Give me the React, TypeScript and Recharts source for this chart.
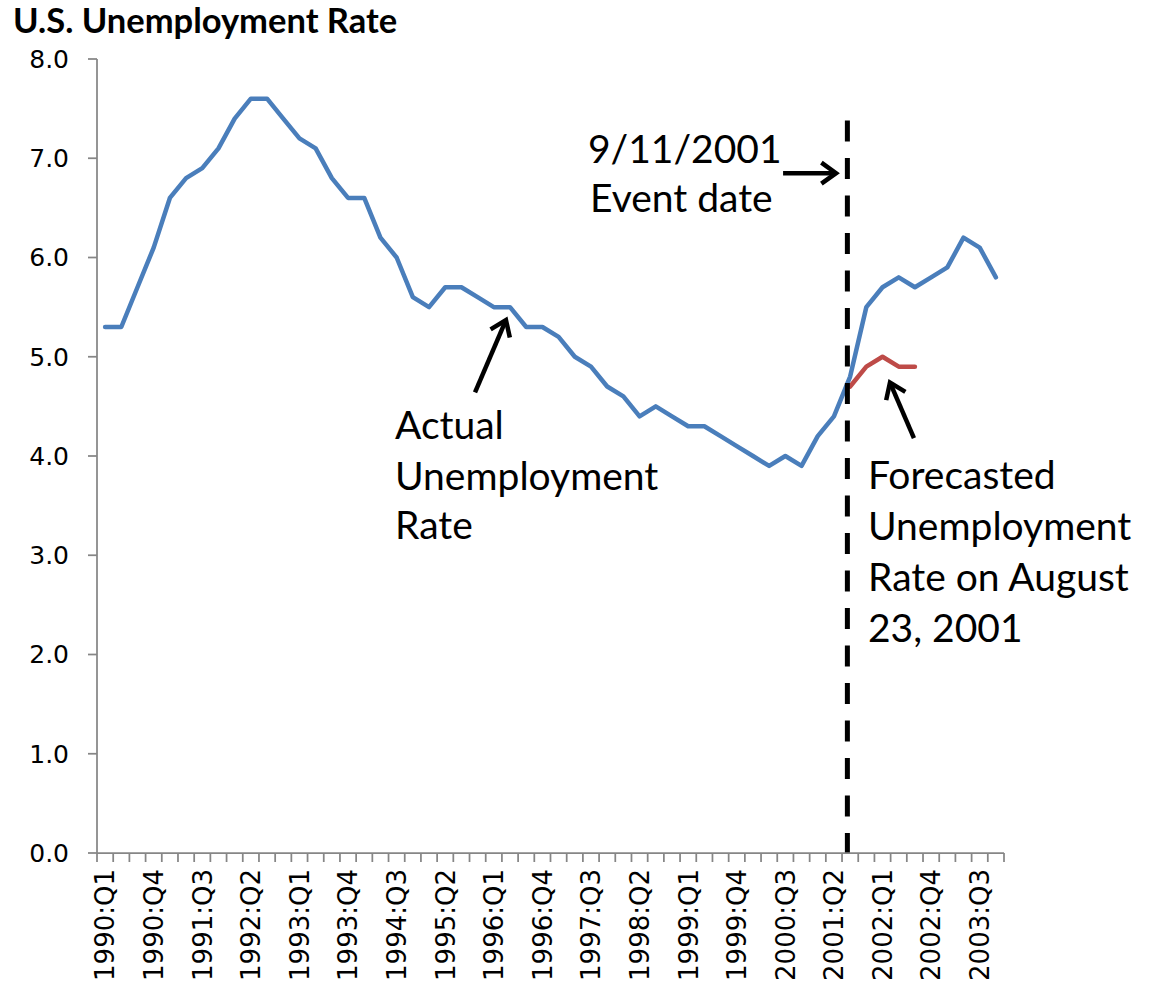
import React from 'react';
import { LineChart, Line, XAxis, YAxis, ReferenceLine } from 'recharts';

// ---------- data ----------
const quarters: string[] = [
  '1990:Q1', '1990:Q2', '1990:Q3', '1990:Q4',
  '1991:Q1', '1991:Q2', '1991:Q3', '1991:Q4',
  '1992:Q1', '1992:Q2', '1992:Q3', '1992:Q4',
  '1993:Q1', '1993:Q2', '1993:Q3', '1993:Q4',
  '1994:Q1', '1994:Q2', '1994:Q3', '1994:Q4',
  '1995:Q1', '1995:Q2', '1995:Q3', '1995:Q4',
  '1996:Q1', '1996:Q2', '1996:Q3', '1996:Q4',
  '1997:Q1', '1997:Q2', '1997:Q3', '1997:Q4',
  '1998:Q1', '1998:Q2', '1998:Q3', '1998:Q4',
  '1999:Q1', '1999:Q2', '1999:Q3', '1999:Q4',
  '2000:Q1', '2000:Q2', '2000:Q3', '2000:Q4',
  '2001:Q1', '2001:Q2', '2001:Q3', '2001:Q4',
  '2002:Q1', '2002:Q2', '2002:Q3', '2002:Q4',
  '2003:Q1', '2003:Q2', '2003:Q3', '2003:Q4',
];

const actualRate: number[] = [
  5.3, 5.3, 5.7, 6.1,
  6.6, 6.8, 6.9, 7.1,
  7.4, 7.6, 7.6, 7.4,
  7.2, 7.1, 6.8, 6.6,
  6.6, 6.2, 6.0, 5.6,
  5.5, 5.7, 5.7, 5.6,
  5.5, 5.5, 5.3, 5.3,
  5.2, 5.0, 4.9, 4.7,
  4.6, 4.4, 4.5, 4.4,
  4.3, 4.3, 4.2, 4.1,
  4.0, 3.9, 4.0, 3.9,
  4.2, 4.4, 4.8, 5.5,
  5.7, 5.8, 5.7, 5.8,
  5.9, 6.2, 6.1, 5.8,
];

const forecastQuarters: string[] = ['2001:Q3', '2001:Q4', '2002:Q1', '2002:Q2', '2002:Q3'];
const forecastRate: number[] = [4.7, 4.9, 5.0, 4.9, 4.9];

const yTicks: number[] = [0, 1, 2, 3, 4, 5, 6, 7, 8];
const labelEvery = 3;

// annotation anchors in data units (x = quarter index, y = rate)
const eventLineX = 45.83;
const eventLineTop = 7.38;
const arrowActual = [{ x: 22.84, y: 4.64 }, { x: 24.75, y: 5.37 }];
const arrowEvent = [{ x: 41.86, y: 6.85 }, { x: 45.13, y: 6.85 }];
const arrowForecast = [{ x: 49.94, y: 4.18 }, { x: 48.46, y: 4.74 }];

// ---------- layout ----------
const W = 1151;
const H = 986;
const M_TOP = 59;
const M_RIGHT = 147;
const M_BOTTOM = 3;
const Y_AXIS_W = 97;
const X_AXIS_H = 130;
const PLOT_W = W - M_RIGHT - Y_AXIS_W;
const AXIS_Y = H - M_BOTTOM - X_AXIS_H;
const BAND = PLOT_W / quarters.length;
const AXIS_COLOR = '#868686';
const TICK_FONT = '"DejaVu Sans", Verdana, sans-serif';
const NOTE_FONT = 'Lato, "Open Sans", sans-serif';

const data = quarters.map((q, i) => {
  const fi = forecastQuarters.indexOf(q);
  return {
    x: i,
    label: q,
    actual: actualRate[i],
    forecast: fi >= 0 ? forecastRate[fi] : null,
  };
});

const XTick = (props: any) => {
  const { x, payload } = props;
  const i = payload.value as number;
  const left = x - BAND / 2;
  const labelY = AXIS_Y + 16;
  return (
    <g>
      <line x1={left} y1={AXIS_Y} x2={left} y2={AXIS_Y + 9} stroke={AXIS_COLOR} strokeWidth={1.75} />
      {i === quarters.length - 1 && (
        <line x1={x + BAND / 2} y1={AXIS_Y} x2={x + BAND / 2} y2={AXIS_Y + 9} stroke={AXIS_COLOR} strokeWidth={1.75} />
      )}
      {i % labelEvery === 0 && (
        <text
          x={x}
          y={labelY}
          dy="0.36em"
          textAnchor="end"
          transform={`rotate(-90 ${x} ${labelY})`}
          fontFamily={TICK_FONT}
          fontSize={26}
          fill="#000"
        >
          {quarters[i]}
        </text>
      )}
    </g>
  );
};

const arrowShape = (p: any) => {
  const { x1, y1, x2, y2 } = p;
  const ang = Math.atan2(y2 - y1, x2 - x1);
  const L = 18;
  const A = 0.62;
  const ax = x2 - L * Math.cos(ang - A);
  const ay = y2 - L * Math.sin(ang - A);
  const bx = x2 - L * Math.cos(ang + A);
  const by = y2 - L * Math.sin(ang + A);
  return (
    <g>
      <line x1={x1} y1={y1} x2={x2 - 2 * Math.cos(ang)} y2={y2 - 2 * Math.sin(ang)} stroke="#000" strokeWidth={4.5} />
      <polyline
        points={`${ax},${ay} ${x2},${y2} ${bx},${by}`}
        fill="none"
        stroke="#000"
        strokeWidth={4.5}
        strokeLinejoin="miter"
      />
    </g>
  );
};

const noteStyle = { fontFamily: NOTE_FONT, fontSize: 39, fill: '#000' } as const;

export default function App() {
  return (
    <div style={{ position: 'absolute', left: 0, top: 0, width: W, height: H, background: '#fff' }}>
      <LineChart
        width={W}
        height={H}
        data={data}
        margin={{ top: M_TOP, right: M_RIGHT, bottom: M_BOTTOM, left: 0 }}
      >
        <XAxis
          type="number"
          dataKey="x"
          domain={[-0.5, quarters.length - 0.5]}
          ticks={quarters.map((_, i) => i)}
          interval={0}
          height={X_AXIS_H}
          tick={<XTick />}
          tickLine={false}
          axisLine={{ stroke: AXIS_COLOR, strokeWidth: 1.75 }}
          allowDataOverflow
        />
        <YAxis
          type="number"
          domain={[0, 8]}
          ticks={yTicks}
          interval={0}
          width={Y_AXIS_W}
          tickFormatter={(v: number) => v.toFixed(1)}
          tick={{ fontFamily: TICK_FONT, fontSize: 25, fill: '#000' }}
          tickSize={9}
          tickMargin={19}
          tickLine={{ stroke: AXIS_COLOR, strokeWidth: 1.75 }}
          axisLine={{ stroke: AXIS_COLOR, strokeWidth: 1.75 }}
        />
        <Line
          type="linear"
          dataKey="actual"
          stroke="#4A7EBB"
          strokeWidth={4.5}
          strokeLinejoin="round"
          strokeLinecap="round"
          dot={false}
          activeDot={false}
          isAnimationActive={false}
        />
        <Line
          type="linear"
          dataKey="forecast"
          stroke="#BE4B48"
          strokeWidth={4.5}
          strokeLinejoin="round"
          strokeLinecap="round"
          dot={false}
          activeDot={false}
          isAnimationActive={false}
        />
        <ReferenceLine
          segment={[{ x: eventLineX, y: eventLineTop }, { x: eventLineX, y: 0 }]}
          stroke="#000"
          strokeWidth={5}
          strokeDasharray="21 16.5"
        />
        <ReferenceLine segment={arrowActual} shape={arrowShape} />
        <ReferenceLine segment={arrowEvent} shape={arrowShape} />
        <ReferenceLine segment={arrowForecast} shape={arrowShape} />
      </LineChart>
      <svg
        width={W}
        height={H}
        style={{ position: 'absolute', left: 0, top: 0, pointerEvents: 'none' }}
      >
        <text x={13} y={33} fontFamily={NOTE_FONT} fontWeight={700} fontSize={34.5} fill="#000">
          U.S. Unemployment Rate
        </text>
        <text x={588} y={163} {...noteStyle}>9/11/2001</text>
        <text x={590} y={212} {...noteStyle}>Event date</text>
        <text x={395} y={439} {...noteStyle}>Actual</text>
        <text x={395} y={490} {...noteStyle}>Unemployment</text>
        <text x={395} y={539} {...noteStyle}>Rate</text>
        <text x={868} y={489} {...noteStyle}>Forecasted</text>
        <text x={868} y={540} {...noteStyle}>Unemployment</text>
        <text x={868} y={591} {...noteStyle}>Rate on August</text>
        <text x={868} y={642} {...noteStyle}>23, 2001</text>
      </svg>
    </div>
  );
}
